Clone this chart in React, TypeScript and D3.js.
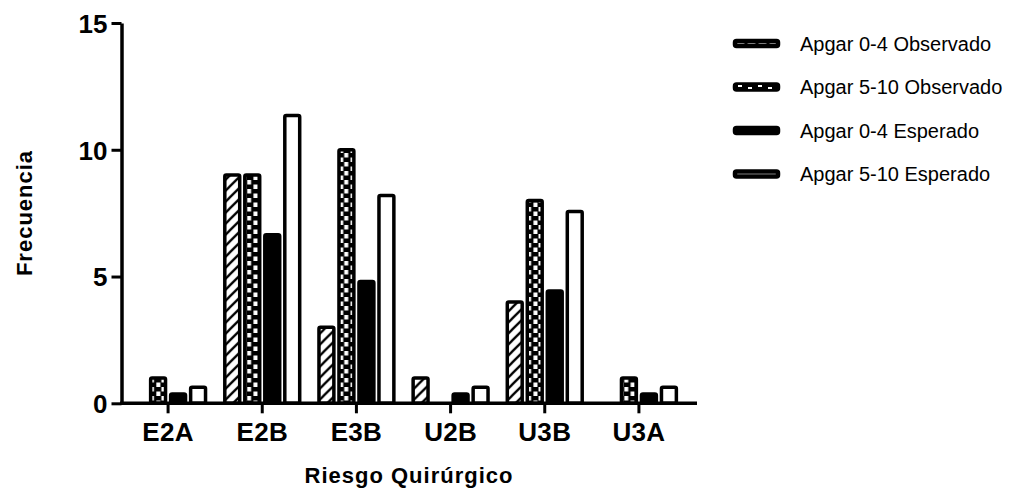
import React, { useEffect, useRef } from "react";
import * as d3 from "d3";

// values
const categories = ["E2A", "E2B", "E3B", "U2B", "U3B", "U3A"];
const seriesNames = [
  "Apgar 0-4 Observado",
  "Apgar 5-10 Observado",
  "Apgar 0-4 Esperado",
  "Apgar 5-10 Esperado",
];
const apgar04Observado = [0, 9, 3, 1, 4, 0];
const apgar510Observado = [1, 9, 10, 0, 8, 1];
const apgar04Esperado = [0.37, 6.65, 4.8, 0.37, 4.43, 0.37];
const apgar510Esperado = [0.63, 11.35, 8.2, 0.63, 7.57, 0.63];
const yTicks = [0, 5, 10, 15];

const W = 1021;
const H = 498;
const FONT = "Arial, 'Liberation Sans', sans-serif";
const SW = 3.5; // bar outline

const App = () => {
  const ref = useRef<SVGSVGElement>(null);

  useEffect(() => {
    const svg = d3.select(ref.current);
    svg.selectAll("*").remove();

    const series = [apgar04Observado, apgar510Observado, apgar04Esperado, apgar510Esperado];

    const x0 = d3.scaleBand().domain(categories).range([121, 686]);
    const x1 = d3
      .scaleBand()
      .domain(seriesNames)
      .range([-37.45, 37.45])
      .paddingInner(0.255);
    const y = d3.scaleLinear().domain([0, 15]).range([403.3, 23]);
    const cx = (c: string) => x0(c)! + x0.bandwidth() / 2;

    // patterns
    const defs = svg.append("defs");
    const hatch = defs
      .append("pattern")
      .attr("id", "hatch")
      .attr("patternUnits", "userSpaceOnUse")
      .attr("width", 11)
      .attr("height", 11);
    hatch.append("rect").attr("width", 11).attr("height", 11).attr("fill", "#fff");
    hatch
      .append("path")
      .attr("d", "M-2,2 L2,-2 M0,11 L11,0 M9,13 L13,9")
      .attr("stroke", "#000")
      .attr("stroke-width", 2.3);

    // checker pattern, one per category so the squares line up with each bar
    const inner = x1.bandwidth() - SW;
    const makeChecks = (id: string, left: number, w: number) => {
      const p = defs
        .append("pattern")
        .attr("id", id)
        .attr("patternUnits", "userSpaceOnUse")
        .attr("x", left)
        .attr("width", w)
        .attr("height", 9);
      p.append("rect").attr("width", w).attr("height", 9).attr("fill", "#000");
      p.append("rect").attr("x", 0.5).attr("width", 4).attr("height", 4.5).attr("fill", "#fff");
      p.append("rect")
        .attr("x", w - 4.5)
        .attr("y", 4.5)
        .attr("width", 4)
        .attr("height", 4.5)
        .attr("fill", "#fff");
    };
    categories.forEach((c, i) =>
      makeChecks(`checks-${i}`, cx(c) + x1(seriesNames[1])! + SW / 2, inner)
    );

    const fillFor = (k: number, i: number) =>
      ["url(#hatch)", `url(#checks-${i})`, "#000", "#fff"][k];

    // bars
    const groups = svg
      .append("g")
      .selectAll("g")
      .data(categories)
      .join("g")
      .attr("transform", (c) => `translate(${cx(c)},0)`);

    groups
      .selectAll("rect")
      .data((c, i) =>
        seriesNames.map((s, k) => ({ s, k, i, v: series[k][i] })).filter((d) => d.v > 0)
      )
      .join("rect")
      .attr("x", (d) => x1(d.s)!)
      .attr("width", x1.bandwidth())
      .attr("y", (d) => y(d.v))
      .attr("height", (d) => y(0) - y(d.v))
      .attr("rx", 1.5)
      .attr("fill", (d) => fillFor(d.k, d.i))
      .attr("stroke", "#000")
      .attr("stroke-width", SW)
      .attr("stroke-linejoin", "round");

    // y axis
    const yAxis = svg
      .append("g")
      .attr("transform", "translate(121.5,0)")
      .call(d3.axisLeft(y).tickValues(yTicks).tickSize(10).tickSizeOuter(0).tickPadding(4));
    yAxis.select(".domain").attr("stroke-width", 3.5);
    yAxis.selectAll(".tick line").attr("stroke-width", 3);
    yAxis
      .selectAll(".tick text")
      .attr("font-family", FONT)
      .attr("font-size", 26)
      .attr("font-weight", "bold")
      .attr("fill", "#000")
      .attr("dy", "0.36em");

    // x axis
    const xAxis = svg
      .append("g")
      .attr("transform", `translate(0,${y(0)})`)
      .call(d3.axisBottom(x0).tickSize(10).tickSizeOuter(0).tickPadding(9));
    xAxis.select(".domain").remove();
    xAxis
      .append("line")
      .attr("x1", 120)
      .attr("x2", 697)
      .attr("stroke", "#000")
      .attr("stroke-width", 3.5);
    xAxis.selectAll(".tick line").attr("stroke-width", 3);
    xAxis
      .selectAll(".tick text")
      .attr("font-family", FONT)
      .attr("font-size", 26)
      .attr("font-weight", "bold")
      .attr("letter-spacing", 0.3)
      .attr("fill", "#000");

    // axis titles
    svg
      .append("text")
      .attr("x", 409)
      .attr("y", 483)
      .attr("text-anchor", "middle")
      .attr("font-family", FONT)
      .attr("font-size", 22)
      .attr("font-weight", "bold")
      .attr("letter-spacing", 1)
      .text("Riesgo Quirúrgico");

    svg
      .append("text")
      .attr("transform", "translate(32,213) rotate(-90)")
      .attr("text-anchor", "middle")
      .attr("font-family", FONT)
      .attr("font-size", 22)
      .attr("font-weight", "bold")
      .attr("letter-spacing", 1)
      .text("Frecuencia");

    // legend
    const legend = svg
      .append("g")
      .selectAll("g")
      .data(seriesNames)
      .join("g")
      .attr("transform", (d, i) => `translate(735,${43.5 + i * 43.5})`);
    legend
      .append("rect")
      .attr("x", 0)
      .attr("y", -2.5)
      .attr("width", 43)
      .attr("height", 5)
      .attr("rx", 1.5)
      .attr("fill", (d, i) => (i === 1 ? "#000" : fillFor(i, 0)))
      .attr("stroke", "#000")
      .attr("stroke-width", 4.5)
      .attr("stroke-linejoin", "round");
    // little white dashes in the checker swatch
    legend
      .filter((d, i) => i === 1)
      .selectAll("line")
      .data([0, 1, 2, 3])
      .join("line")
      .attr("x1", (d) => 3 + d * 10)
      .attr("x2", (d) => 7 + d * 10)
      .attr("y1", (d) => (d % 2 ? 1 : -1))
      .attr("y2", (d) => (d % 2 ? 1 : -1))
      .attr("stroke", "#fff")
      .attr("stroke-width", 2);
    legend
      .append("text")
      .attr("x", 65)
      .attr("dy", "0.35em")
      .attr("font-family", FONT)
      .attr("font-size", 20)
      .text((d) => d);
  }, []);

  return (
    <svg
      ref={ref}
      width={W}
      height={H}
      style={{ position: "absolute", left: 0, top: 0, background: "#fff" }}
    />
  );
};

export default App;
